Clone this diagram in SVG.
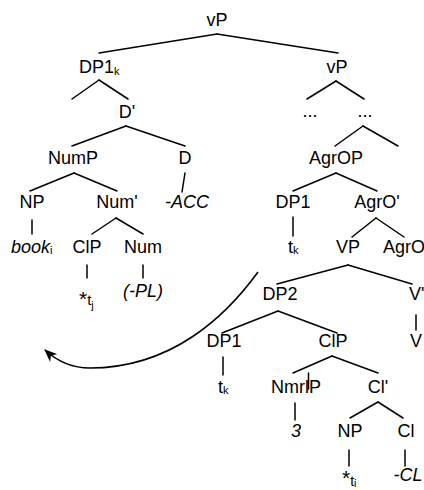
<svg xmlns="http://www.w3.org/2000/svg" width="424" height="490" viewBox="0 0 424 490">
<style>
text{font-family:"Liberation Sans",Arial,sans-serif;font-size:18px;fill:#000}
.m{text-anchor:middle}
.i{font-style:italic}
.sub{font-size:11px;font-style:normal}
.st{font-size:21px}
.br line{stroke:#000;stroke-width:1.5;stroke-linecap:round}
</style>
<defs>
<marker id="ah" viewBox="0 0 12 10" refX="11" refY="5" markerWidth="13" markerHeight="11" markerUnits="userSpaceOnUse" orient="auto">
<path d="M12,5 L0,0 L3.5,5 L0,10 z" fill="#000"/>
</marker>
</defs>
<rect width="424" height="490" fill="#fff"/>
<g id="connectors" class="br">
<line x1="217" y1="34" x2="99" y2="53"/>
<line x1="217" y1="34" x2="338" y2="53"/>
<line x1="99" y1="80" x2="72" y2="99"/>
<line x1="99" y1="80" x2="128" y2="99"/>
<line x1="126" y1="126" x2="72" y2="146"/>
<line x1="126" y1="126" x2="185" y2="146"/>
<line x1="74" y1="173" x2="30" y2="191"/>
<line x1="74" y1="173" x2="117" y2="191"/>
<line x1="185" y1="173" x2="182" y2="192"/>
<line x1="32" y1="220" x2="32" y2="234"/>
<line x1="116" y1="218" x2="92" y2="234"/>
<line x1="116" y1="218" x2="143" y2="234"/>
<line x1="87" y1="265" x2="87" y2="278"/>
<line x1="143" y1="265" x2="143" y2="278"/>
<line x1="336" y1="81" x2="307" y2="99"/>
<line x1="336" y1="81" x2="364" y2="99"/>
<line x1="363" y1="126" x2="335" y2="146"/>
<line x1="363" y1="126" x2="398" y2="146"/>
<line x1="336" y1="173" x2="293" y2="191"/>
<line x1="336" y1="173" x2="377" y2="191"/>
<line x1="293" y1="217" x2="293" y2="236"/>
<line x1="376" y1="218" x2="352" y2="237"/>
<line x1="376" y1="218" x2="404" y2="237"/>
<line x1="348" y1="265" x2="277" y2="284"/>
<line x1="348" y1="265" x2="412" y2="284"/>
<line x1="416" y1="315" x2="416" y2="330"/>
<line x1="278" y1="311" x2="222" y2="333"/>
<line x1="278" y1="311" x2="337" y2="333"/>
<line x1="223" y1="357" x2="223" y2="375"/>
<line x1="332" y1="356" x2="293" y2="373"/>
<line x1="332" y1="356" x2="378" y2="373"/>
<line x1="308.5" y1="373" x2="308.5" y2="389"/>
<line x1="295" y1="403" x2="295" y2="420"/>
<line x1="378" y1="402" x2="350" y2="418"/>
<line x1="378" y1="402" x2="403" y2="418"/>
<line x1="349" y1="450" x2="349" y2="466"/>
<line x1="405" y1="450" x2="405" y2="466"/>
<path d="M258,272 C226,316 172,368 90,368 C72,368 58,362 45,350" fill="none" stroke="#000" stroke-width="1.6" marker-end="url(#ah)"/>
</g>
<g id="n-vP"><text class="m" x="217" y="26">vP</text></g>
<g id="n-DP1k"><text x="79" y="73">DP1<tspan class="sub" dy="2">k</tspan></text></g>
<g id="n-vP2"><text class="m" x="337" y="73">vP</text></g>
<g id="n-Dbar"><text class="m" x="127" y="118">D'</text></g>
<g id="n-dots1"><text class="m" x="310" y="117">...</text></g>
<g id="n-dots2"><text class="m" x="365" y="117">...</text></g>
<g id="n-NumP"><text class="m" x="73" y="164">NumP</text></g>
<g id="n-D"><text class="m" x="185" y="164">D</text></g>
<g id="n-AgrOP"><text class="m" x="336" y="164">AgrOP</text></g>
<g id="n-NP1"><text class="m" x="32" y="208">NP</text></g>
<g id="n-Numbar"><text class="m" x="117" y="208">Num'</text></g>
<g id="n-ACC"><text class="m i" x="187" y="208">-ACC</text></g>
<g id="n-DP1a"><text class="m" x="293" y="208">DP1</text></g>
<g id="n-AgrObar"><text class="m" x="377" y="208">AgrO'</text></g>
<g id="n-book"><text class="i" x="11" y="253">book<tspan class="sub" dy="1">i</tspan></text></g>
<g id="n-ClP1"><text class="m" x="87" y="253">ClP</text></g>
<g id="n-Num"><text class="m" x="143" y="253">Num</text></g>
<g id="n-tk1"><text x="288" y="253">t<tspan class="sub" dy="1">k</tspan></text></g>
<g id="n-VP"><text class="m" x="348" y="253">VP</text></g>
<g id="n-AgrO"><text x="383" y="253">AgrO</text></g>
<g id="n-tj"><text x="79" y="306"><tspan class="st">*</tspan><tspan font-size="15" dy="-1">t</tspan><tspan class="sub" dy="4">j</tspan></text></g>
<g id="n-PL"><text class="m i" x="143" y="297">(-PL)</text></g>
<g id="n-DP2"><text class="m" x="280" y="300">DP2</text></g>
<g id="n-Vbar"><text x="409" y="300">V'</text></g>
<g id="n-DP1b"><text class="m" x="224" y="347">DP1</text></g>
<g id="n-ClP2"><text class="m" x="333" y="347">ClP</text></g>
<g id="n-V"><text x="410" y="347">V</text></g>
<g id="n-tk2"><text x="218" y="393">t<tspan class="sub" dy="1">k</tspan></text></g>
<g id="n-NmrlP"><text class="m" x="296" y="393">NmrlP</text></g>
<g id="n-Clbar"><text class="m" x="378" y="393">Cl'</text></g>
<g id="n-3"><text class="m i" x="296" y="437">3</text></g>
<g id="n-NP2"><text class="m" x="350" y="437">NP</text></g>
<g id="n-Cl"><text class="m" x="406" y="437">Cl</text></g>
<g id="n-ti"><text x="342" y="485"><tspan class="st">*</tspan><tspan font-size="14" dy="1">t</tspan><tspan class="sub" dy="1" font-size="10">i</tspan></text></g>
<g id="n-CL"><text class="m i" x="408" y="481">-CL</text></g>
</svg>
